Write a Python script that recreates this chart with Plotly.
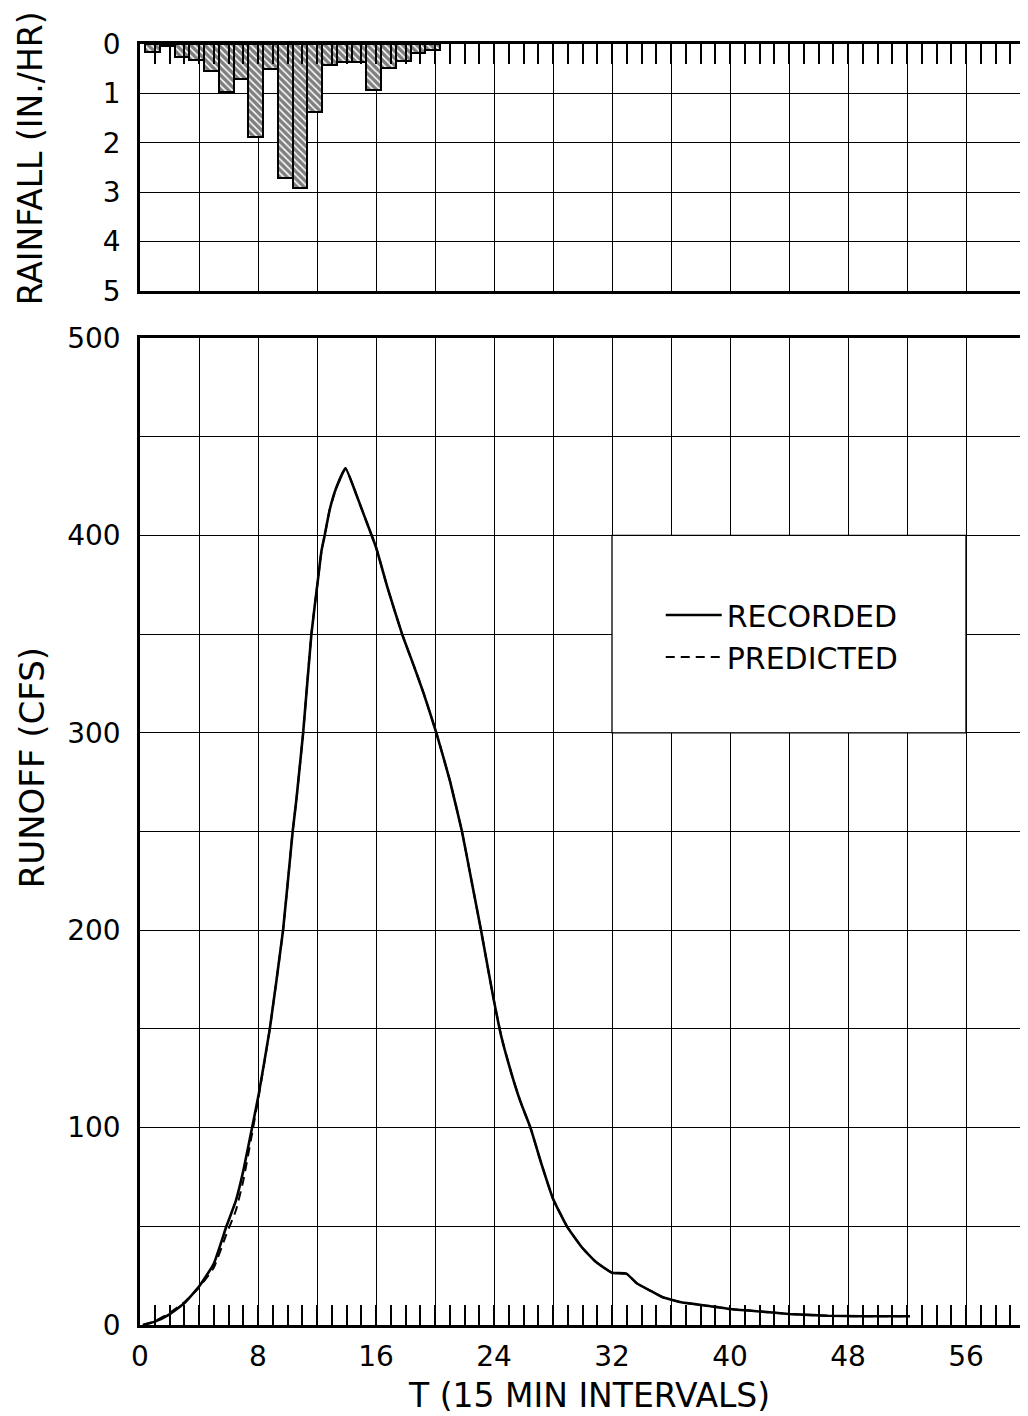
import plotly.graph_objects as go

# ---------------- data ----------------
# Rainfall hyetograph: start of each 15-min interval (T units) and intensity (in./hr)
rain_start = [0.35, 1.35, 2.35, 3.35, 4.35, 5.35, 6.35, 7.35, 8.35, 9.35,
              10.35, 11.35, 12.35, 13.35, 14.35, 15.35, 16.35, 17.35, 18.35, 19.35]
rain_rate = [0.17, 0.05, 0.26, 0.32, 0.54, 0.98, 0.71, 1.88, 0.51, 2.72,
             2.92, 1.37, 0.42, 0.37, 0.37, 0.93, 0.49, 0.34, 0.18, 0.12]

# Recorded runoff hydrograph (cfs)
rec_t = [0.2, 1.0, 2.0, 3.0, 4.0, 5.0, 5.86, 6.5, 7.0, 7.6, 8.05, 8.8, 9.7,
         10.35, 10.6, 11.06, 11.62, 12.07, 12.3, 12.52, 12.86, 13.3, 13.93,
         14.6, 15.2, 16.0, 16.8, 17.77, 18.56, 19.23, 20.09, 21.0, 21.83, 22.5,
         23.12, 23.9, 24.5, 25.2, 25.8, 26.47, 27.2, 28.0, 28.94, 30.0, 30.9,
         32.0, 32.97, 33.7, 34.7, 35.4, 36.7, 38.9, 40.0, 42.1, 44.0, 46.6,
         48.9, 52.2]
rec_q = [0, 1.7, 5.4, 11, 19.5, 31, 50, 63, 78, 100, 117, 150, 200,
         250, 266, 300, 350, 378, 392, 400, 413, 424, 434,
         422, 410, 394, 373, 350, 334, 320, 300, 276, 250, 224,
         200, 168, 146, 127, 113, 100, 82, 64, 50, 39, 32,
         26.5, 26, 21, 17, 14.2, 11.5, 9.3, 8.1, 6.8, 5.6, 4.7,
         4.4, 4.4]

# Predicted runoff hydrograph (cfs)
pred_t = [0.2, 1.0, 2.0, 3.0, 4.0, 5.0, 5.86, 6.5, 7.0, 7.6, 8.05, 8.8, 9.7,
          10.35, 10.6, 11.06, 11.62, 12.07, 12.3, 12.52, 12.86, 13.3, 13.93,
          14.6, 15.2, 16.0, 16.8, 17.77, 18.56, 19.23, 20.09, 21.0, 21.83, 22.5,
          23.12, 23.9, 24.5, 25.2, 25.8, 26.47, 27.2, 28.0, 28.94, 30.0, 30.9,
          32.0, 32.97, 33.7, 34.7, 35.4, 36.7, 38.9, 40.0, 42.1, 44.0, 46.6,
          48.9, 52.2]
pred_q = [0, 2.0, 6.0, 11.5, 19, 29, 46, 58, 73, 97, 116, 150, 200,
          250, 266, 300, 350, 378, 392, 400, 413, 424, 434,
          422, 410, 394, 373, 350, 334, 320, 300, 276, 250, 224,
          200, 168, 146, 127, 113, 100, 82, 64, 50, 39, 32,
          26.5, 26, 21, 17, 14.2, 11.5, 9.3, 8.1, 6.8, 5.6, 4.7,
          4.4, 4.4]

x_tickvals = [0, 4, 8, 12, 16, 20, 24, 28, 32, 36, 40, 44, 48, 52, 56, 60]
x_ticktext = ["0", "", "8", "", "16", "", "24", "", "32", "", "40", "", "48", "", "56", ""]
rain_tickvals = [0, 1, 2, 3, 4, 5]
runoff_tickvals = [0, 100, 200, 300, 400, 500]

# ---------------- figure ----------------
FONT = "DejaVu Sans"
OFF = 8                      # page body margin offset
W, H = 1028 - OFF, 1416 - OFF
ML, MR, MT, MB = 132, 0, 36, 91

fig = go.Figure()

fig.add_trace(go.Bar(
    x=rain_start, y=rain_rate, base=0, offset=0, width=1,
    xaxis="x2", yaxis="y2", showlegend=False,
    marker=dict(color="white",
                line=dict(color="black", width=2),
                pattern=dict(shape="\\", fgcolor="black", bgcolor="white",
                             size=5, solidity=0.7)),
))

fig.add_trace(go.Scatter(
    x=pred_t, y=pred_q, mode="lines", name="PREDICTED",
    line=dict(color="black", width=2, dash="9px,6px", shape="spline", smoothing=0.4),
))
fig.add_trace(go.Scatter(
    x=rec_t, y=rec_q, mode="lines", name="RECORDED",
    line=dict(color="black", width=2.6, shape="spline", smoothing=0.4),
))

grid = dict(showgrid=True, gridcolor="black", gridwidth=1.3, zeroline=False,
            showline=True, linecolor="black", linewidth=2.6, mirror=True)
minor_x = dict(dtick=1, tick0=0, ticks="inside", ticklen=20, tickwidth=1.5,
               tickcolor="black", showgrid=False)

fig.update_layout(
    width=W, height=H,
    margin=dict(l=ML, r=MR, t=MT, b=MB),
    paper_bgcolor="white", plot_bgcolor="white",
    font=dict(family=FONT, color="black", size=28),
    bargap=0,
    xaxis=dict(domain=[0, 1], range=[0, 60], anchor="y",
               tickmode="array", tickvals=x_tickvals, ticktext=x_ticktext,
               ticks="inside", ticklen=20, tickwidth=1.5, tickcolor="black",
               minor=minor_x, tickfont=dict(size=28), ticklabelstandoff=5,
               **grid),
    yaxis=dict(domain=[0, 0.7705], range=[0, 500], anchor="x",
               tickmode="array", tickvals=runoff_tickvals, ticks="",
               minor=dict(dtick=50, tick0=0, showgrid=True, gridcolor="black",
                          gridwidth=1.3, ticks=""),
               tickfont=dict(size=28), ticklabelstandoff=11, **grid),
    xaxis2=dict(domain=[0, 1], range=[0, 60], anchor="y2", matches="x",
                side="top", tickmode="array", tickvals=x_tickvals,
                showticklabels=False,
                ticks="inside", ticklen=20, tickwidth=1.5, tickcolor="black",
                minor=minor_x, **grid),
    yaxis2=dict(domain=[0.8072, 1], range=[5, 0], anchor="x2",
                tickmode="array", tickvals=rain_tickvals, ticks="",
                tickfont=dict(size=28), ticklabelstandoff=11, **grid),
    legend=dict(x=0.5884, y=0.5745, xanchor="left", yanchor="top",
                bgcolor="rgba(0,0,0,0)", font=dict(size=30, family=FONT),
                traceorder="reversed", itemwidth=56, tracegroupgap=0),
    shapes=[dict(type="rect", xref="x", yref="y", x0=32, x1=56, y0=300, y1=400,
                 fillcolor="white", line=dict(color="black", width=1.3),
                 layer="between")],
)

pw = W - ML - MR
ph = H - MT - MB
def px_x(p):          # page pixel -> paper x
    return (p - OFF - ML) / pw
def px_y(p):          # page pixel -> paper y
    return (H - MB - (p - OFF)) / ph

fig.add_annotation(text="RAINFALL (IN./HR)", x=px_x(30), y=px_y(158),
                   xref="paper", yref="paper", textangle=-90, showarrow=False,
                   xanchor="center", yanchor="middle",
                   font=dict(size=33, family=FONT))
fig.add_annotation(text="RUNOFF (CFS)", x=px_x(32), y=px_y(768),
                   xref="paper", yref="paper", textangle=-90, showarrow=False,
                   xanchor="center", yanchor="middle",
                   font=dict(size=34, family=FONT))
fig.add_annotation(text="T (15 MIN INTERVALS)", x=px_x(591), y=px_y(1395),
                   xref="paper", yref="paper", showarrow=False,
                   xanchor="center", yanchor="middle",
                   font=dict(size=33, family=FONT))

fig.write_html("out.html")
